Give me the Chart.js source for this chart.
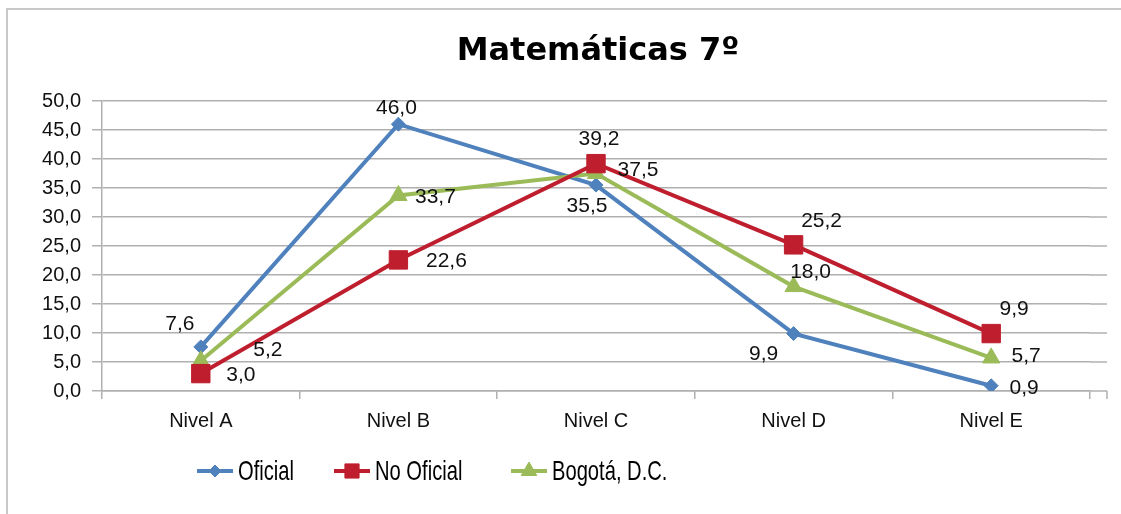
<!DOCTYPE html>
<html>
<head>
<meta charset="utf-8">
<script src="https://cdn.jsdelivr.net/npm/chart.js@4/dist/chart.umd.min.js"></script>
<style>
body { margin: 0; background: #fff; }
#wrap { position: relative; width: 1121px; height: 514px; overflow: hidden; }
#frame { position: absolute; left: 6px; top: 8px; width: 1130px; height: 530px; border: 2px solid #C8C8C8; box-sizing: border-box; }
canvas { position: absolute; left: 0; top: 0; }
</style>
</head>
<body>
<div id="wrap">
  <div id="frame"></div>
  <canvas id="chart" width="1121" height="514"></canvas>
</div>
<script>
// data
var categories = ['Nivel A', 'Nivel B', 'Nivel C', 'Nivel D', 'Nivel E'];
var oficial   = [7.6, 46.0, 35.5, 9.9, 0.9];
var noOficial = [3.0, 22.6, 39.2, 25.2, 9.9];
var bogota    = [5.2, 33.7, 37.5, 18.0, 5.7];
var seriesNames = ['Oficial', 'No Oficial', 'Bogotá, D.C.'];
var titleText = 'Matemáticas 7º';
var yMin = 0, yMax = 50, yStep = 5;

var colors = ['#4F81BD', '#BE1E2D', '#9BBB59'];
var styles = ['rectRot', 'rect', 'triangle'];
var radii = [7, 13, 10];

// where each value label sits relative to its point (px)
var labelOffsets = [
	[[-21, -23], [-2, -16], [-9, 21], [-30, 21], [33, 2]],
	[[40, 2], [48, 1], [3, -24], [28, -24], [23, -24]],
	[[67, -11], [37, 2], [42, -3], [17, -14], [35, -2]]
];
var legendX = [197, 334, 511];
var legendY = 471;
var sansFont = 'Arial, "Liberation Sans", sans-serif';

function fmt(v) {
	return v.toFixed(1).replace('.', ',');
}

function makeSet(i, values, order) {
	return {
		label: seriesNames[i],
		data: values,
		borderColor: colors[i],
		backgroundColor: colors[i],
		borderWidth: 4,
		pointStyle: styles[i],
		pointRadius: radii[i],
		pointHoverRadius: radii[i],
		pointBorderWidth: 1,
		tension: 0,
		order: order
	};
}

var valueLabels = {
	id: 'valueLabels',
	afterDatasetsDraw: function(chart) {
		var ctx = chart.ctx;
		ctx.save();
		ctx.font = '21px ' + sansFont;
		ctx.fillStyle = '#111';
		ctx.textAlign = 'center';
		ctx.textBaseline = 'middle';
		chart.data.datasets.forEach(function(ds, i) {
			var meta = chart.getDatasetMeta(i);
			meta.data.forEach(function(pt, j) {
				var off = labelOffsets[i][j];
				ctx.fillText(fmt(ds.data[j]), pt.x + off[0], pt.y + off[1]);
			});
		});
		ctx.restore();
	}
};

// gridlines in the picture run a bit past the last category
var gridTail = {
	id: 'gridTail',
	beforeDatasetsDraw: function(chart) {
		var ctx = chart.ctx;
		var y = chart.scales.y;
		var right = chart.chartArea.right;
		ctx.save();
		ctx.strokeStyle = '#B0B0B0';
		ctx.lineWidth = 1.5;
		y.ticks.forEach(function(t) {
			var py = y.getPixelForValue(t.value);
			ctx.beginPath();
			ctx.moveTo(right, py);
			ctx.lineTo(right + 17, py);
			ctx.stroke();
		});
		var py0 = y.getPixelForValue(yMin);
		ctx.beginPath();
		ctx.moveTo(right + 17, py0);
		ctx.lineTo(right + 17, py0 + 8);
		ctx.stroke();
		ctx.restore();
	}
};

// title is centred over the whole frame, not the plot box
var frameTitle = {
	id: 'frameTitle',
	afterDraw: function(chart) {
		var ctx = chart.ctx;
		ctx.save();
		ctx.font = 'bold 32px "DejaVu Sans", sans-serif';
		ctx.fillStyle = '#000';
		ctx.textAlign = 'center';
		ctx.textBaseline = 'alphabetic';
		ctx.fillText(titleText, 598, 60);
		ctx.restore();
	}
};

var lineLegend = {
	id: 'lineLegend',
	afterDraw: function(chart) {
		var ctx = chart.ctx;
		ctx.save();
		ctx.textBaseline = 'middle';
		ctx.textAlign = 'left';
		seriesNames.forEach(function(name, i) {
			var x = legendX[i];
			ctx.strokeStyle = colors[i];
			ctx.fillStyle = colors[i];
			ctx.lineWidth = 4;
			ctx.beginPath();
			ctx.moveTo(x, legendY);
			ctx.lineTo(x + 36, legendY);
			ctx.stroke();
			ctx.lineWidth = 1;
			Chart.helpers.drawPoint(ctx, {
				pointStyle: styles[i],
				radius: [6, 10, 9][i],
				rotation: 0,
				borderWidth: 1
			}, x + 18, legendY);
			// narrow legend text, like the original
			ctx.save();
			ctx.translate(x + 41, legendY + 1);
			ctx.scale(0.72, 1);
			ctx.font = '28px ' + sansFont;
			ctx.fillStyle = '#000';
			ctx.fillText(name, 0, 0);
			ctx.restore();
		});
		ctx.restore();
	}
};

var ctx = document.getElementById('chart');
new Chart(ctx, {
	type: 'line',
	data: {
		labels: categories,
		datasets: [
			makeSet(0, oficial, 3),
			makeSet(1, noOficial, 1),
			makeSet(2, bogota, 2)
		]
	},
	options: {
		responsive: false,
		animation: false,
		devicePixelRatio: 1,
		layout: { padding: { left: 0, right: 31, top: 101, bottom: 71 } },
		plugins: {
			legend: { display: false },
			tooltip: { enabled: false },
			title: { display: false }
		},
		scales: {
			x: {
				offset: true,
				grid: {
					offset: true,
					drawOnChartArea: false,
					drawTicks: true,
					tickLength: 8,
					color: '#B0B0B0',
					lineWidth: 1.5
				},
				border: { color: '#B0B0B0', width: 1.5 },
				ticks: {
					color: '#111',
					padding: 10,
					font: { family: sansFont, size: 20 }
				}
			},
			y: {
				min: yMin,
				max: yMax,
				afterFit: function(scale) { scale.width = 102; },
				grid: {
					color: '#B0B0B0',
					lineWidth: 1.5,
					tickLength: 10
				},
				border: { color: '#B0B0B0', width: 1.5 },
				ticks: {
					stepSize: yStep,
					color: '#111',
					padding: 11,
					font: { family: sansFont, size: 20 },
					callback: function(v) { return fmt(v); }
				}
			}
		}
	},
	plugins: [gridTail, valueLabels, frameTitle, lineLegend]
});
</script>
</body>
</html>
